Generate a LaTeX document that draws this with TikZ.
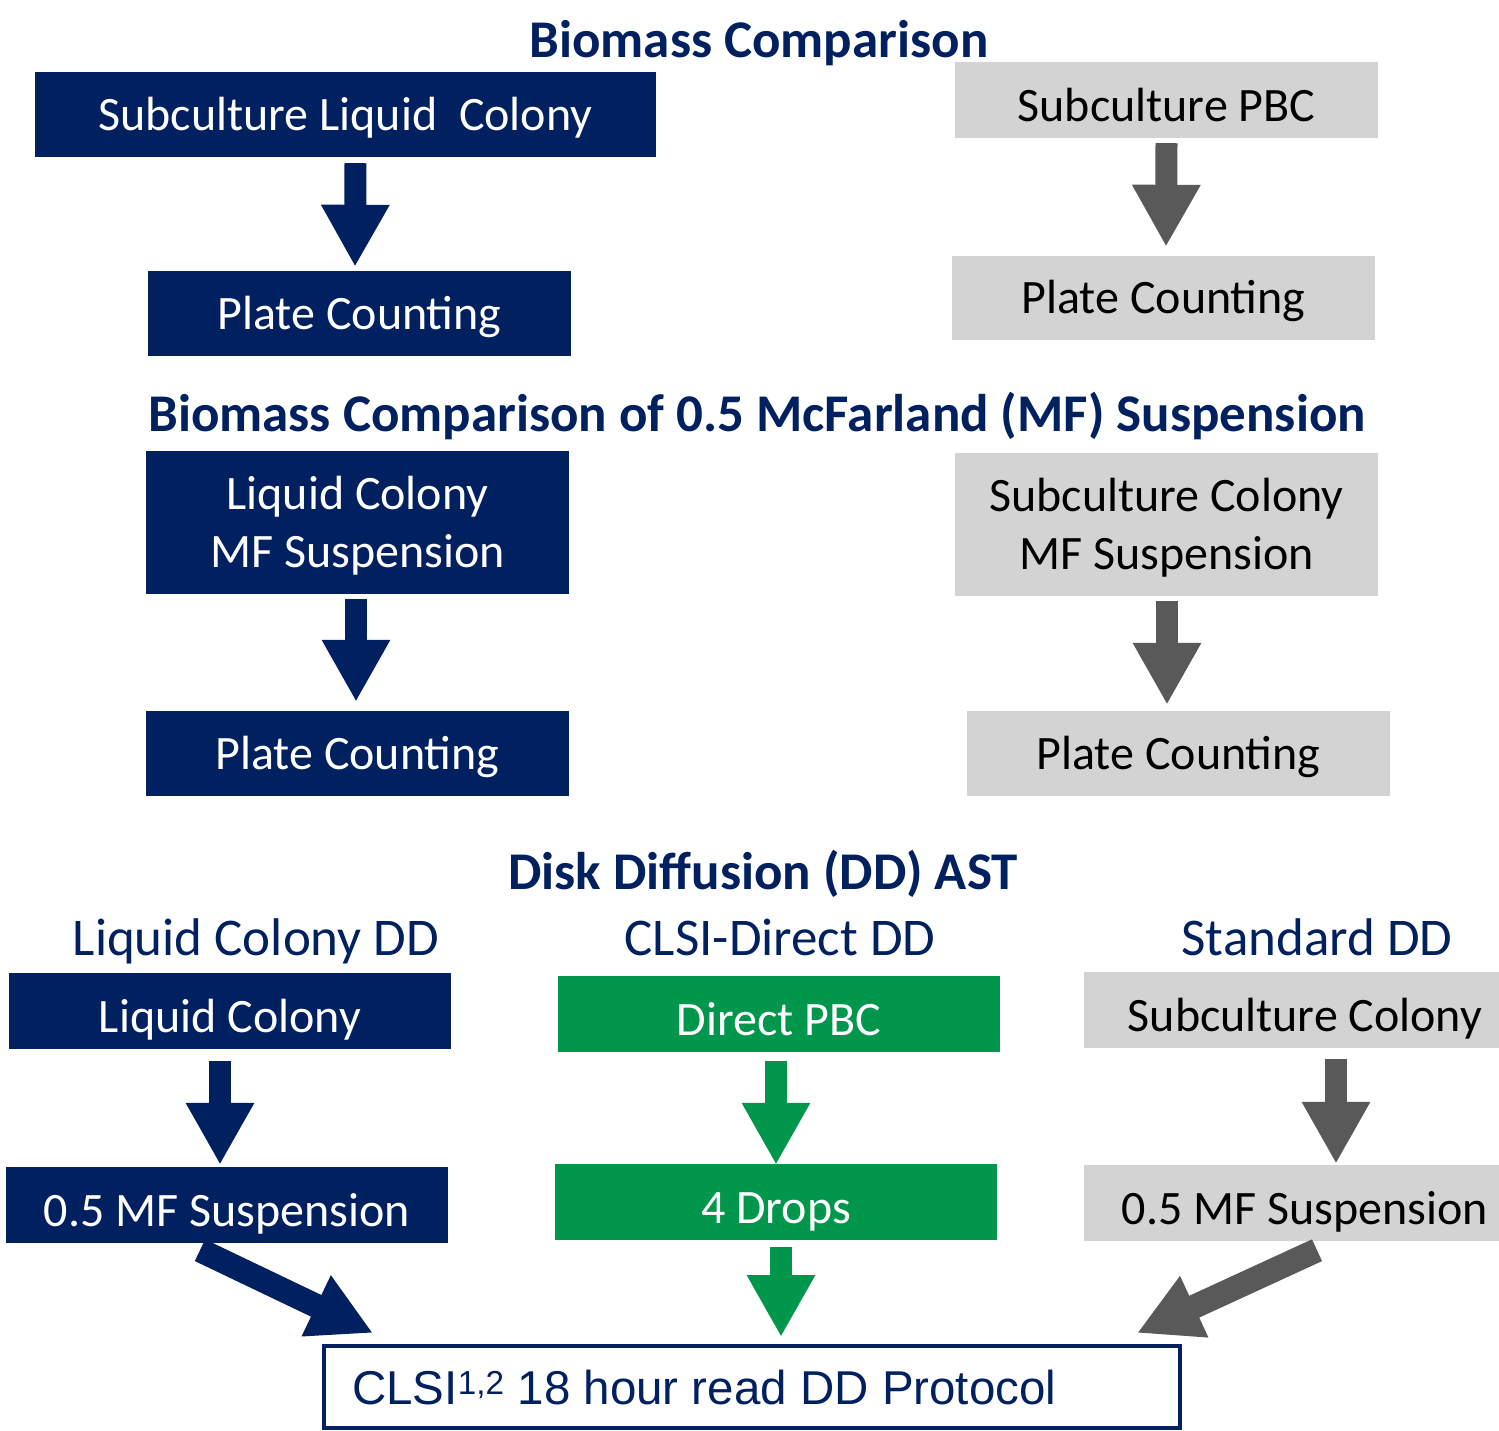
\documentclass[tikz,border=0pt]{standalone}
\usepackage{fontspec}
\setmainfont{Carlito}
\newfontfamily\arialf{Liberation Sans}
\usetikzlibrary{arrows.meta}
\definecolor{navy}{HTML}{002060}
\definecolor{lgray}{HTML}{D3D3D3}
\definecolor{dgray}{HTML}{595959}
\definecolor{mgreen}{HTML}{00964B}
\tikzset{
  boxbase/.style={rectangle, inner sep=0pt, align=center, font=\fontsize{48}{58}\selectfont, text height=31pt, text depth=0pt},
  lowtext/.style={text height=43pt},
  twoline/.style={text height=89pt, text depth=0pt},
  navybox/.style={boxbase, fill=navy, text=white},
  graybox/.style={boxbase, fill=lgray, text=black},
  greenbox/.style={boxbase, fill=mgreen, text=white},
  titletext/.style={text=navy, font=\fontsize{53}{60}\selectfont\bfseries, inner sep=0pt, text height=34pt, text depth=0pt},
  subtext/.style={text=navy, font=\fontsize{53}{60}\selectfont, inner sep=0pt, text height=34pt, text depth=0pt},
  blockarrow/.style={line width=22pt, -{Triangle[length=62pt,width=64pt]}},
  diagarrow/.style={line width=24pt, -{Triangle[length=63pt,width=63pt]}},
}
\begin{document}
\begin{tikzpicture}[x=1pt,y=-1pt]
\clip (0,0) rectangle (1499,1430);
\fill[white] (0,0) rectangle (1499,1430);

% titles
\node[titletext] (t1) at (759,40) {Biomass Comparison};
\node[titletext] (t2) at (757,414) {Biomass Comparison of 0.5 McFarland (MF) Suspension};
\node[titletext] (t3) at (763,872) {Disk Diffusion (DD) AST};

% section 1
\node[navybox, minimum width=621pt, minimum height=85pt] (B1) at (345.5,114.5) {Subculture Liquid~~Colony};
\node[navybox, minimum width=423pt, minimum height=85pt] (B2) at (359.5,313.5) {Plate Counting};
\node[graybox, lowtext, minimum width=423pt, minimum height=76pt] (G1) at (1166.5,100) {Subculture PBC};
\node[graybox, minimum width=423pt, minimum height=84pt] (G2) at (1163.5,298) {Plate Counting};

% section 2
\node[navybox, twoline, minimum width=423pt, minimum height=143pt] (B3) at (357.5,522.5) {Liquid Colony\\MF Suspension};
\node[navybox, minimum width=423pt, minimum height=85pt] (B4) at (357.5,753.5) {Plate Counting};
\node[graybox, twoline, minimum width=423pt, minimum height=143pt] (G3) at (1166.5,524.5) {Subculture Colony\\MF Suspension};
\node[graybox, minimum width=423pt, minimum height=85pt] (G4) at (1178.5,753.5) {Plate Counting};

% section 3
\node[subtext] (s1) at (256,938) {Liquid Colony DD};
\node[subtext] (s2) at (780,938) {CLSI-Direct DD};
\node[subtext] (s3) at (1317,938) {Standard DD};

\node[navybox, lowtext, minimum width=442pt, minimum height=76pt] (B5) at (230,1011) {Liquid Colony};
\node[navybox, lowtext, minimum width=442pt, minimum height=76pt] (B6) at (227,1205) {0.5 MF Suspension};
\node[greenbox, lowtext, minimum width=442pt, minimum height=76pt] (Gr1) at (779,1014) {Direct PBC};
\node[greenbox, lowtext, minimum width=442pt, minimum height=76pt] (Gr2) at (776,1202) {4 Drops};
\node[graybox, lowtext, minimum width=442pt, minimum height=76pt] (G5) at (1305,1010) {Subculture Colony};
\node[graybox, lowtext, minimum width=442pt, minimum height=76pt] (G6) at (1305,1203) {0.5 MF Suspension};

\node[rectangle, draw=navy, line width=4pt, fill=white, minimum width=856pt, minimum height=82pt, inner sep=0pt] (P) at (752,1387) {};
\node[anchor=west, text=navy, font=\arialf\fontsize{47.5}{54}\selectfont, inner sep=0pt, text height=34pt, text depth=0pt] (Pt) at ([xshift=30pt]P.west) {CLSI\textsuperscript{1,2} 18 hour read DD Protocol};

% arrows
\draw[blockarrow, navy] ([shift={(10,6)}]B1.south) -- ([shift={(-4.5,-4)}]B2.north);
\draw[blockarrow, dgray] ([yshift=-5pt]G1.south) -- ([shift={(2.5,-9)}]G2.north);
\draw[blockarrow, navy] ([shift={(-1.5,5)}]B3.south) -- ([shift={(-1.5,-9)}]B4.north);
\draw[blockarrow, dgray] ([shift={(0.5,5)}]G3.south) -- ([shift={(-11.5,-6)}]G4.north);
\draw[blockarrow, navy] ([shift={(-10,12)}]B5.south) -- ([shift={(-7,-2)}]B6.north);
\draw[blockarrow, mgreen] ([shift={(-3,9)}]Gr1.south) -- ([shift={(0,1)}]Gr2.north);
\draw[blockarrow, mgreen] ([shift={(5,7)}]Gr2.south) -- ([shift={(29,-7)}]P.north);
\draw[blockarrow, dgray] ([shift={(31,11)}]G5.south) -- ([shift={(31,-1)}]G6.north);
\draw[diagarrow, navy] ([shift={(-27,7)}]B6.south) -- ([shift={(51,-11)}]P.north west);
\draw[diagarrow, dgray] ([shift={(12,9)}]G6.south) -- ([shift={(-45,-11)}]P.north east);
\end{tikzpicture}
\end{document}
